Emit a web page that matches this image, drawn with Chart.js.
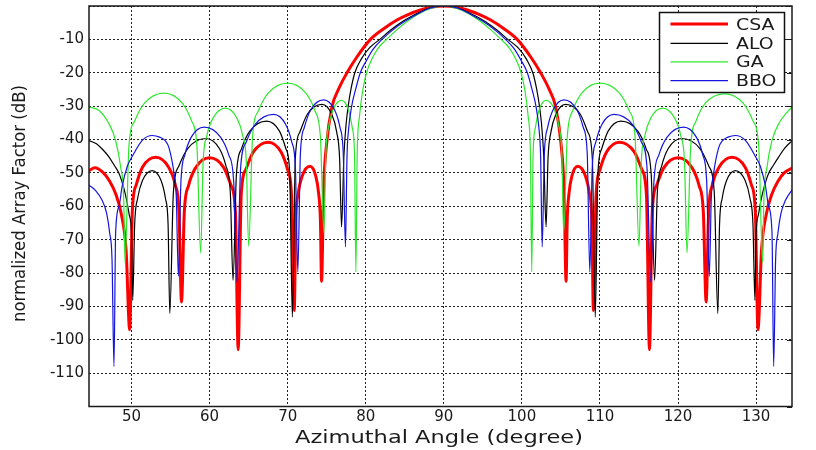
<!DOCTYPE html>
<html><head><meta charset="utf-8">
<script src="https://cdn.jsdelivr.net/npm/chart.js@4.4.1/dist/chart.umd.min.js"></script>
<style>html,body{margin:0;padding:0;background:#fff;}#wrap{width:816px;height:450px;}</style>
</head><body><div id="wrap"><canvas id="c" width="816" height="450"></canvas></div>
<script>
const seriesNames = ['CSA', 'ALO', 'GA', 'BBO'];

const csaAngle = [44.55,45.3,46.3,47.2,48.0,48.7,49.3,49.76,
  50.1,50.6,51.4,53.1,54.75,55.6,56.07,56.4,
  56.76,57.3,58.2,60.0,61.83,62.75,63.3,63.66,
  64.04,64.62,65.58,67.5,69.17,70.0,70.5,70.84,
  71.04,71.34,71.85,72.85,73.6,73.97,74.19,74.34,
  74.6,75.0,75.7,76.5,77.6,78.8,80.6,82.3,84.0,85.5,87.0,88.5,90,
  91.5,93.0,94.5,96.0,97.7,99.4,101.2,102.4,103.5,104.3,105.0,105.4,105.66,
  105.81,106.03,106.4,107.15,108.15,108.66,108.96,109.16,
  109.5,110.0,110.83,112.5,114.42,115.38,115.96,116.34,
  116.7,117.25,118.17,120.0,121.8,122.7,123.24,123.6,
  123.93,124.4,125.25,126.9,128.6,129.4,129.9,130.24,
  130.7,131.3,132.0,132.8,133.7,134.7];
const csaDb = [-49.3,-48.5,-49.8,-52.5,-56.5,-62.5,-73,-97,
  -61.4,-53.6,-48.3,-45.3,-48.3,-53.6,-61.4,-88.7,
  -61.6,-53.8,-48.5,-45.5,-48.5,-53.8,-61.6,-103,
  -56.9,-49.1,-43.8,-40.8,-43.8,-49.1,-56.9,-91.2,
  -64,-56.3,-51,-48,-51,-56.3,-64,-82.5,
  -55,-41,-30,-25,-20,-15.5,-10,-6.8,-4.2,-2.5,-1.2,-0.3,0,
  -0.3,-1.2,-2.5,-4.2,-6.8,-10,-15.5,-20,-25,-30,-41,-55,-82.5,
  -64,-56.3,-51,-48,-51,-56.3,-64,-91.2,
  -56.9,-49.1,-43.8,-40.8,-43.8,-49.1,-56.9,-103,
  -61.6,-53.8,-48.5,-45.5,-48.5,-53.8,-61.6,-88.7,
  -61.4,-53.6,-48.3,-45.3,-48.3,-53.6,-61.4,-97,
  -73,-62.5,-56.5,-52.5,-49.8,-48.5];

const aloAngle = [44.55,45.5,46.3,47.1,47.8,48.4,49.0,49.4,49.7,50.0,50.15,
  50.4,50.78,51.4,52.65,53.78,54.34,54.68,54.9,
  55.36,56.05,57.2,59.5,61.25,62.1,62.65,63.0,
  63.43,64.08,65.15,67.3,68.95,69.78,70.27,70.6,
  70.98,71.55,72.5,74.4,75.65,76.28,76.65,76.9,
  77.2,77.5,77.75,78.1,78.6,79.4,80.5,81.8,83.2,84.8,86.5,88.2,90,
  91.8,93.5,95.2,96.8,98.2,99.5,100.6,101.4,101.9,102.25,102.5,102.8,103.1,
  103.35,103.72,104.35,105.6,107.5,108.45,109.02,109.4,
  109.73,110.22,111.05,112.7,114.85,115.92,116.57,117.0,
  117.35,117.9,118.75,120.5,122.8,123.95,124.64,125.1,
  125.32,125.66,126.22,127.35,128.6,129.22,129.6,129.85,
  130.0,130.3,130.6,131.0,131.6,132.2,132.9,133.7,134.6];
const aloDb = [-40.3,-41.3,-43,-45.2,-47.8,-50.2,-54.5,-58.5,-62.5,-68.5,-88.2,
  -65.4,-57.6,-52.3,-49.3,-52.3,-57.6,-65.4,-92.2,
  -55.8,-48,-42.7,-39.7,-42.7,-48,-55.8,-82.2,
  -50.6,-42.8,-37.5,-34.5,-37.5,-42.8,-50.6,-93.2,
  -45.6,-37.8,-32.5,-29.5,-32.5,-37.8,-45.6,-66.2,
  -45,-35,-30,-25,-20,-16,-12.5,-10,-7.2,-4.5,-2.3,-0.6,0,
  -0.6,-2.3,-4.5,-7.2,-10,-12.5,-16,-20,-25,-30,-35,-45,-66.2,
  -45.6,-37.8,-32.5,-29.5,-32.5,-37.8,-45.6,-93.2,
  -50.6,-42.8,-37.5,-34.5,-37.5,-42.8,-50.6,-82.2,
  -55.8,-48,-42.7,-39.7,-42.7,-48,-55.8,-92.2,
  -65.4,-57.6,-52.3,-49.3,-52.3,-57.6,-65.4,-88.2,
  -68.5,-62.5,-58.5,-54.5,-50.2,-47.8,-45.2,-42.5,-40.4];

const gaAngle = [44.55,45.83,47.11,47.96,48.6,49.0,49.16,
  49.66,50.41,51.66,54.15,56.5,57.68,58.38,58.85,
  59.17,59.64,60.43,62.0,63.5,64.25,64.7,65.0,
  65.5,66.25,67.5,70.0,72.33,73.49,74.19,74.65,
  74.88,75.21,75.78,76.9,77.82,78.28,78.56,78.74,
  78.9,79.2,79.6,80.1,80.8,81.6,82.67,83.9,85.2,86.7,88.2,90,
  91.8,93.3,94.8,96.1,97.33,98.4,99.2,99.9,100.4,100.8,101.1,101.26,
  101.44,101.72,102.18,103.1,104.22,104.79,105.12,105.35,
  105.81,106.51,107.67,110.0,112.5,113.75,114.5,115.0,
  115.3,115.75,116.5,118.0,119.57,120.36,120.83,121.15,
  121.62,122.32,123.5,126.0,128.34,129.59,130.34,130.84,
  131.0,131.4,132.04,132.89,134.17,134.6];
const gaDb = [-30.3,-31.3,-35.3,-40.3,-48.2,-58,-77,
  -42.2,-34.4,-29.1,-26.1,-29.1,-34.4,-42.2,-74,
  -46.7,-38.9,-33.6,-30.6,-33.6,-38.9,-46.7,-72,
  -39.2,-31.4,-26.1,-23.1,-26.1,-31.4,-39.2,-68,
  -44.4,-36.6,-31.3,-28.3,-31.3,-36.6,-44.4,-79.7,
  -45,-33,-25.5,-20,-15.8,-12.6,-10,-7.3,-4.8,-2.5,-0.8,0,
  -0.8,-2.5,-4.8,-7.3,-10,-12.6,-15.8,-20,-25.5,-33,-45,-79.7,
  -44.4,-36.6,-31.3,-28.3,-31.3,-36.6,-44.4,-68,
  -39.2,-31.4,-26.1,-23.1,-26.1,-31.4,-39.2,-72,
  -46.7,-38.9,-33.6,-30.6,-33.6,-38.9,-46.7,-74,
  -42.2,-34.4,-29.1,-26.3,-29.1,-34.4,-42.2,-77,
  -58,-48.2,-40.3,-35.3,-31.3,-30.3];

const bboAngle = [44.55,45.4,46.25,46.8,47.2,47.5,47.75,
  47.96,48.4,48.8,49.46,50.1,51.4,52.65,53.6,54.36,54.8,55.43,55.73,56.0,
  56.33,56.83,57.65,59.3,61.4,62.45,63.08,63.5,
  63.97,64.68,65.85,68.2,69.75,70.53,70.99,71.3,
  71.63,72.13,72.95,74.6,76.0,76.7,77.12,77.4,
  77.6,77.8,78.2,78.7,79.3,80.1,81.0,82.1,83.4,85.0,86.7,88.3,90,
  91.7,93.3,95.0,96.6,97.9,99.0,99.9,100.7,101.3,101.8,102.2,102.4,102.6,
  102.88,103.3,104.0,105.4,107.05,107.87,108.37,108.7,
  109.01,109.47,110.25,111.8,114.15,115.32,116.03,116.5,
  116.92,117.55,118.6,120.7,122.35,123.17,123.67,124.0,
  124.27,124.57,125.2,125.64,126.4,127.35,128.6,129.9,130.54,131.2,131.6,132.04,132.25,
  132.5,132.8,133.2,133.75,134.6];
const bboDb = [-53.7,-55.3,-58.3,-62,-68,-76,-108,
  -68,-60,-54,-48,-45,-40.2,-38.8,-39.3,-40.5,-42.5,-50,-57,-81,
  -52.4,-44.6,-39.3,-36.3,-39.3,-44.6,-52.4,-82.7,
  -48.6,-40.8,-35.5,-32.5,-35.5,-40.8,-48.6,-79.7,
  -44.2,-36.4,-31.1,-28.1,-31.1,-36.4,-44.2,-72.2,
  -45,-37,-30,-25,-20,-16.3,-12.8,-10,-7.3,-4.6,-2.3,-0.6,0,
  -0.6,-2.3,-4.6,-7.3,-10,-12.8,-16.3,-20,-25,-30,-37,-45,-72.2,
  -44.2,-36.4,-31.1,-28.1,-31.1,-36.4,-44.2,-79.7,
  -48.6,-40.8,-35.5,-32.5,-35.5,-40.8,-48.6,-82.7,
  -52.4,-44.6,-39.3,-36.3,-39.3,-44.6,-52.4,-81,
  -57,-50,-42.5,-40.5,-39.3,-38.8,-40.2,-45,-48,-54,-60,-68,-108,
  -76,-68,-62,-58.3,-55.1];

const xTickValues = [50, 60, 70, 80, 90, 100, 110, 120, 130];
const yTickValues = [0, -10, -20, -30, -40, -50, -60, -70, -80, -90, -100, -110, -120];
const xAxisTitle = 'Azimuthal Angle (degree)';
const yAxisTitle = 'normalized Array Factor (dB)';

const toPts = (xs, ys) => xs.map((x, i) => ({x: x, y: ys[i]}));
const FONT = '"DejaVu Sans", Verdana, sans-serif';

const mk = (label, xs, ys, color, width, order) => ({
  label, data: toPts(xs, ys), borderColor: color, backgroundColor: color,
  borderWidth: width, pointRadius: 0, fill: false, order,
  cubicInterpolationMode: 'monotone'
});

const decorations = {
  id: 'decorations',
  afterDraw(chart) {
    const ctx = chart.ctx, a = chart.chartArea;
    ctx.save();
    ctx.strokeStyle = '#1a1a1a';
    ctx.lineWidth = 1.5;
    ctx.strokeRect(a.left, a.top, a.right - a.left, a.bottom - a.top);
    ctx.lineWidth = 1;
    const xs = chart.scales.x, ys = chart.scales.y;
    ctx.beginPath();
    yTickValues.forEach(v => {
      const py = Math.round(ys.getPixelForValue(v)) + 0.5;
      ctx.moveTo(a.right, py); ctx.lineTo(a.right - 5, py);
    });
    ctx.stroke();

    ctx.fillStyle = '#1a1a1a';
    ctx.font = '18px ' + FONT;
    ctx.textAlign = 'center';
    ctx.textBaseline = 'alphabetic';
    let w = ctx.measureText(xAxisTitle).width;
    ctx.save();
    ctx.translate(439, 442.5);
    ctx.scale(288 / w, 1);
    ctx.fillText(xAxisTitle, 0, 0);
    ctx.restore();

    w = ctx.measureText(yAxisTitle).width;
    ctx.save();
    ctx.translate(25, 203.5);
    ctx.rotate(-Math.PI / 2);
    ctx.scale(237 / w, 1);
    ctx.fillText(yAxisTitle, 0, 0);
    ctx.restore();

    const bx = 659.5, by = 12.5, bw = 125, bh = 80;
    ctx.fillStyle = '#fff';
    ctx.fillRect(bx, by, bw, bh);
    ctx.strokeStyle = '#111';
    ctx.lineWidth = 1.5;
    ctx.strokeRect(bx, by, bw, bh);
    const rows = [24, 43.3, 61.8, 80.7];
    ctx.font = '15px ' + FONT;
    ctx.textAlign = 'left';
    chart.data.datasets.forEach((ds, i) => {
      const yy = rows[i];
      ctx.strokeStyle = ds.borderColor;
      ctx.lineWidth = ds.borderWidth;
      ctx.beginPath();
      ctx.moveTo(670.5, yy); ctx.lineTo(728, yy);
      ctx.stroke();
      ctx.fillStyle = '#1a1a1a';
      ctx.save();
      ctx.translate(736, yy + 5.5);
      ctx.scale(1.26, 1);
      ctx.fillText(ds.label, 0, 0);
      ctx.restore();
    });
    ctx.restore();
  }
};

new Chart(document.getElementById('c'), {
  type: 'line',
  data: {
    datasets: [
      mk(seriesNames[0], csaAngle, csaDb, '#ff0000', 3, 4),
      mk(seriesNames[1], aloAngle, aloDb, '#000000', 1.2, 3),
      mk(seriesNames[2], gaAngle, gaDb, '#2ee82e', 1.2, 2),
      mk(seriesNames[3], bboAngle, bboDb, '#1414e0', 1.2, 1)
    ]
  },
  options: {
    responsive: false,
    animation: false,
    devicePixelRatio: 1,
    layout: {padding: {top: 6, right: 24, left: 0, bottom: 0}},
    plugins: {legend: {display: false}, tooltip: {enabled: false}},
    scales: {
      x: {
        type: 'linear', min: 44.55, max: 134.6,
        afterBuildTicks: s => { s.ticks = xTickValues.map(v => ({value: v})); },
        afterFit: s => { s.height = 43.5; s.paddingLeft = 0; s.paddingRight = 0; },
        grid: {color: '#222', lineWidth: 1, drawTicks: false},
        border: {display: false, dash: [2, 2]},
        ticks: {autoSkip: false, maxRotation: 0, padding: 2, color: '#1a1a1a',
          font: {family: FONT, size: 15}, callback: v => String(v)}
      },
      y: {
        type: 'linear', min: -120, max: 0,
        afterBuildTicks: s => { s.ticks = yTickValues.map(v => ({value: v})); },
        afterFit: s => { s.width = 89; s.paddingTop = 0; s.paddingBottom = 0; },
        grid: {color: '#222', lineWidth: 1, drawTicks: false},
        border: {display: false, dash: [2, 2]},
        ticks: {autoSkip: false, padding: 5, color: '#1a1a1a',
          font: {family: FONT, size: 15},
          callback: v => (v === 0 || v === -120) ? '' : String(v)}
      }
    }
  },
  plugins: [decorations]
});
</script>
</body></html>
